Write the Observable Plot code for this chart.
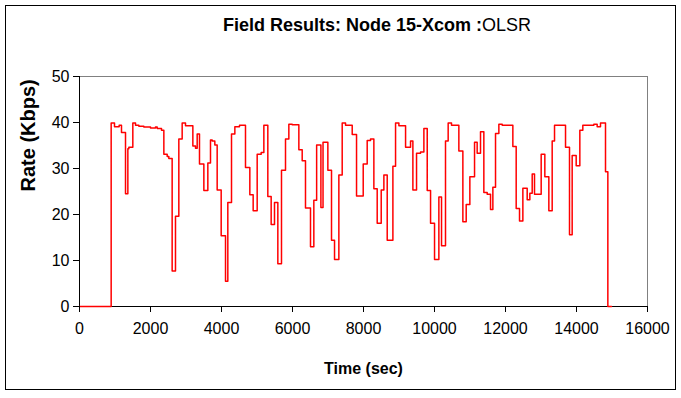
<!DOCTYPE html>
<html><head><meta charset="utf-8">
<script src="https://cdn.jsdelivr.net/npm/d3@7"></script>
<script src="https://cdn.jsdelivr.net/npm/@observablehq/plot@0.6"></script>
<style>
body{margin:0;background:#fff;}
#wrap{position:relative;width:681px;height:398px;font-family:"Liberation Sans",Arial,sans-serif;overflow:hidden;}
#frame{position:absolute;left:5px;top:5px;width:671px;height:385px;border:1px solid #000;box-sizing:border-box;}
#title{position:absolute;top:15px;left:377px;transform:translateX(-50%);white-space:nowrap;font-size:18px;line-height:21px;color:#000;}
#title b{font-weight:bold;}
#chart{position:absolute;left:0;top:0;}
</style>
</head><body>
<div id="wrap"><div id="frame"></div><div id="chart"></div>
<div id="title"><b>Field Results: Node 15-Xcom :</b>OLSR</div></div>
<script>
const titleText = "Field Results: Node 15-Xcom :OLSR";
const xLabel = "Time (sec)";
const yLabel = "Rate (Kbps)";
const xTicks = [0,2000,4000,6000,8000,10000,12000,14000,16000];
const yTicks = [0,10,20,30,40,50];
const times = [0,892,986,1117,1183,1296,1362,1390,1502,1578,1672,1812,2000,2141,2188,2310,2376,2470,2516,2610,2704,2798,2892,2986,3193,3268,3315,3380,3503,3615,3690,3737,3812,3878,3991,4113,4178,4282,4376,4507,4676,4798,4892,5005,5118,5193,5305,5399,5493,5587,5690,5803,5897,5991,6179,6273,6366,6507,6601,6680,6800,6860,6996,7099,7184,7306,7400,7494,7682,7804,7992,8104,8198,8292,8386,8499,8574,8668,8828,8903,8997,9185,9325,9391,9494,9607,9701,9795,9889,10001,10123,10198,10310,10385,10479,10686,10799,10893,10996,11128,11202,11296,11390,11484,11578,11644,11719,11813,11907,12207,12301,12395,12489,12611,12686,12752,12817,13005,13108,13221,13315,13381,13691,13803,13878,13991,14094,14178,14488,14582,14676,14817,14883,14986];
const rates = [0,39.9,39.1,39.4,37.8,24.5,34.3,34.6,39.9,39.4,39.2,39.0,38.8,39.0,38.7,38.3,33.1,32.6,32.2,7.7,19.6,36.4,39.9,39.3,34.9,34.4,37.5,31.0,25.2,31.2,36.2,36.0,35.1,25.3,15.4,5.5,22.6,37.5,39.1,39.4,30.2,24.3,20.8,33.1,33.5,39.4,23.9,17.8,22.6,9.3,29.6,36.4,39.6,39.5,34.1,31.7,21.4,13.0,23.1,35.1,21.5,35.7,29.6,14.4,10.2,28.6,39.9,39.4,37.4,24.0,31.0,36.1,36.4,25.6,18.1,25.3,28.6,14.4,30.5,39.9,39.3,34.6,36.0,25.3,33.3,33.6,38.7,25.2,18.1,10.2,23.8,13.2,36.0,39.9,39.4,33.8,18.4,22.2,28.2,35.7,33.3,38.0,24.8,24.4,21.1,25.9,37.6,39.6,39.4,34.8,21.3,18.6,25.7,23.2,24.6,28.8,24.4,33.1,28.2,20.8,36.0,39.4,34.6,15.6,32.8,30.6,38.3,39.4,39.6,39.1,39.9,29.3,0,0];
const data = times.map((t, i) => ({t, r: rates[i]}));
const fmt = d3.format("d");
const chart = Plot.plot({
  width: 681, height: 398,
  marginLeft: 79, marginRight: 34, marginTop: 76, marginBottom: 92,
  style: {fontFamily: "'Liberation Sans', Arial, sans-serif", fontSize: "16px", background: "transparent", color: "#000"},
  x: {domain: [0, 16000]},
  y: {domain: [0, 50]},
  marks: [
    Plot.ruleY([50], {stroke: "#808080", strokeWidth: 1}),
    Plot.ruleX([16000], {stroke: "#808080", strokeWidth: 1}),
    Plot.ruleX([0], {stroke: "#000", strokeWidth: 1}),
    Plot.ruleY([0], {stroke: "#000", strokeWidth: 1}),
    Plot.line(data, {x: "t", y: "r", curve: "step-after", stroke: "#ff0000", strokeWidth: 1.5}),
    Plot.axisX({ticks: xTicks, tickSize: 6, tickPadding: 10, tickFormat: fmt, label: null, fontSize: 16, strokeOpacity: 1}),
    Plot.axisY({ticks: yTicks, tickSize: 6, tickPadding: 4, tickFormat: fmt, label: null, fontSize: 16, strokeOpacity: 1}),
    Plot.text([xLabel], {frameAnchor: "bottom", lineAnchor: "middle", dy: 62, fontWeight: "bold", fontSize: 16}),
    Plot.text([yLabel], {frameAnchor: "left", lineAnchor: "middle", dx: -51, rotate: -90, fontWeight: "bold", fontSize: 20})
  ]
});
document.getElementById("chart").appendChild(chart);
</script>
</body></html>
